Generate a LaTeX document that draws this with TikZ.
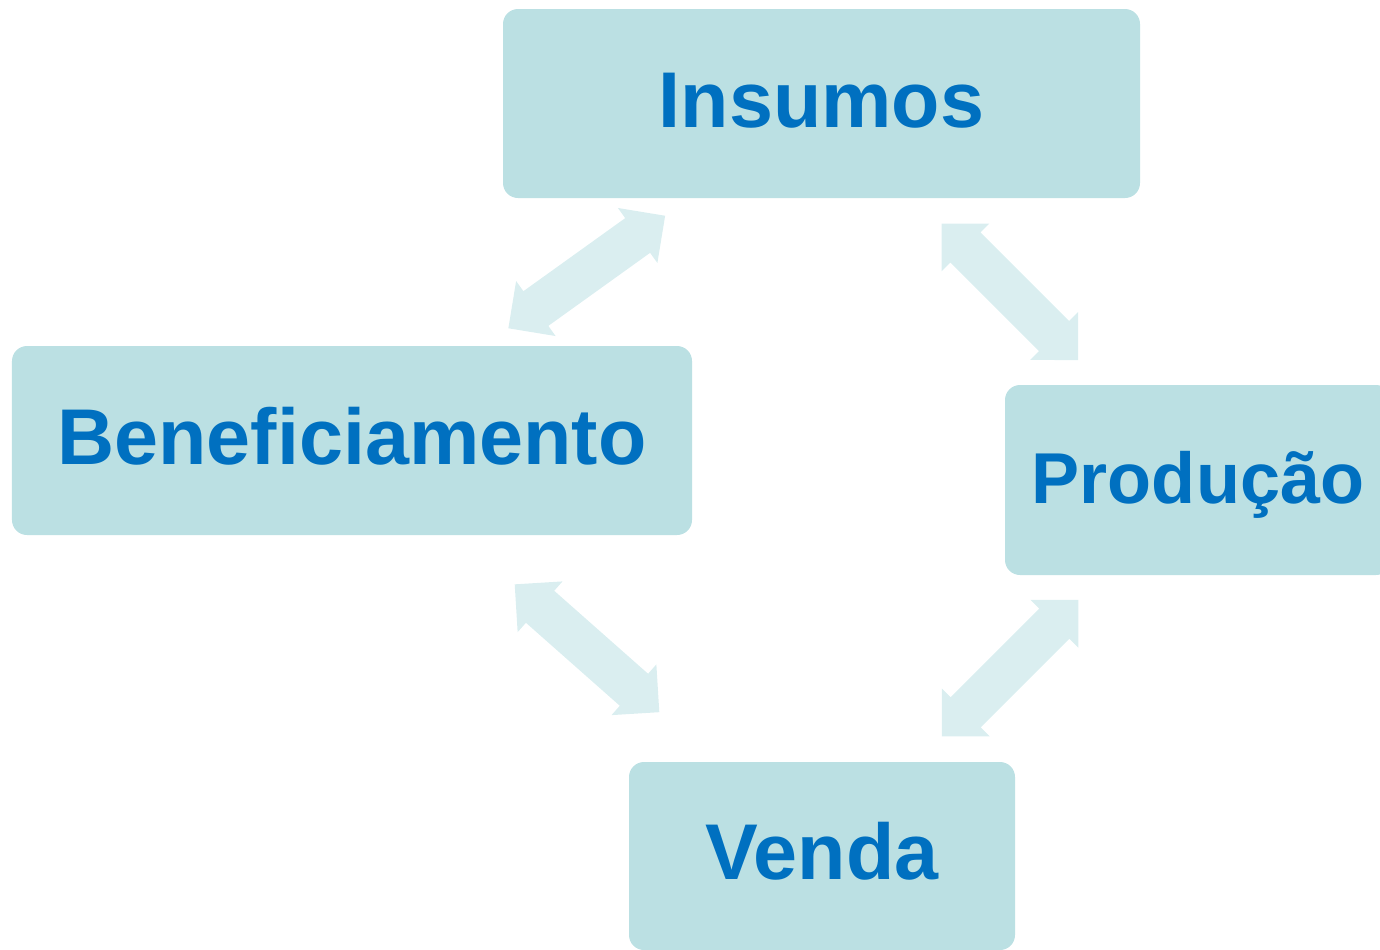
\documentclass[tikz,border=0pt]{standalone}
\usepackage{fontspec}
\setmainfont{Liberation Sans}
\usetikzlibrary{shapes.arrows}
\definecolor{boxfill}{RGB}{187,224,227}
\definecolor{arrowfill}{RGB}{218,238,240}
\definecolor{textblue}{RGB}{0,112,192}
\tikzset{
stage/.style={fill=boxfill,rounded corners=0.3cm,text=textblue,font=\fontsize{45}{54}\selectfont\bfseries,text height=36pt,text depth=9pt,minimum height=3.78cm},
link/.style={double arrow,fill=arrowfill,sloped,inner xsep=0pt,inner ysep=0.42cm,minimum height=3.86cm,minimum width=1.34cm,double arrow head extend=0.25cm,double arrow tip angle=90}
}
\begin{document}
\begin{tikzpicture}
\useasboundingbox(0,0)rectangle(27.6,-18.98);
\node[stage,minimum width=12.74cm](ins)at(16.43,-2.07){Insumos};
\node[stage,minimum width=13.6cm](ben)at(7.04,-8.81){Beneficiamento};
\node[stage,minimum width=7.72cm,minimum height=3.8cm,font=\fontsize{41}{49}\selectfont\bfseries](pro)at(23.96,-9.6){Produção};
\node[stage,minimum width=7.72cm,minimum height=3.76cm](ven)at(16.44,-17.12){Venda};
\path(ben.center)--node[link]{}(ins.center);
\path(ins.center)--node[link]{}(pro.center);
\path(ben.center)--node[link]{}(ven.center);
\path(ven.center)--node[link]{}(pro.center);
\end{tikzpicture}
\end{document}
